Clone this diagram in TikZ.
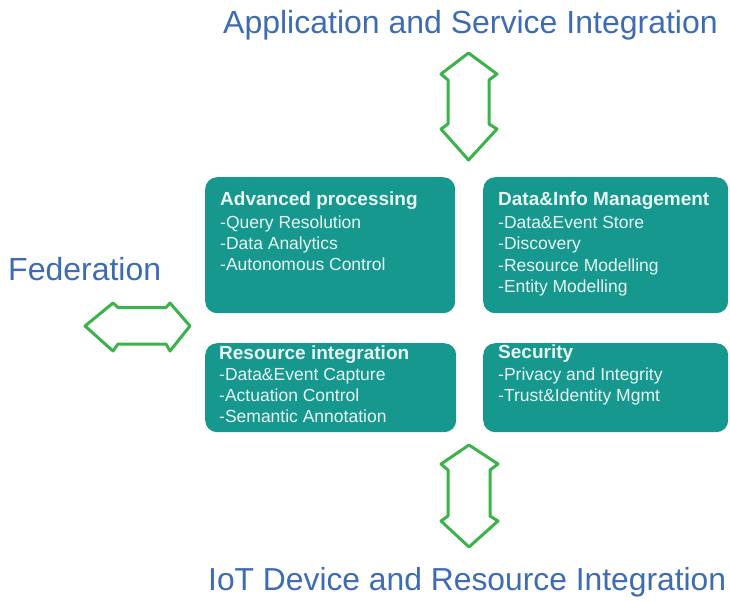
\documentclass[tikz,border=0pt]{standalone}
\usepackage{fontspec}
\setmainfont{Liberation Sans}
\definecolor{titleblue}{RGB}{62,108,180}
\definecolor{boxteal}{RGB}{22,152,142}
\definecolor{boxtext}{RGB}{232,245,243}
\definecolor{arrowgreen}{RGB}{60,178,74}
\begin{document}
\begin{tikzpicture}[x=1pt,y=-1pt,
  title/.style={anchor=base west,inner sep=0pt,text=titleblue,font=\fontsize{32}{38}\selectfont},
  tealbox/.style={fill=boxteal,draw=none,rounded corners=12pt,anchor=north west,inner sep=0pt},
  boxhead/.style={anchor=base west,inner sep=0pt,text=boxtext,font=\fontsize{19}{22}\selectfont\bfseries},
  boxitem/.style={anchor=base west,inner sep=0pt,text=boxtext,font=\fontsize{17.5}{21}\selectfont},
  blockarrow/.style={draw=arrowgreen,line width=3pt,line join=round,fill=white}]
\useasboundingbox (0,0) rectangle (730,600);
\fill[white] (0,0) rectangle (730,600);

% titles
\node[title] (tapp) at (223,33) {Application and Service Integration};
\node[title] (tfed) at (8,280) {Federation};
\node[title,font=\fontsize{31.8}{38}\selectfont] (tiot) at (208,590) {IoT Device and Resource Integration};

% boxes
\node[tealbox,minimum width=250pt,minimum height=136pt] (b1) at (205,177) {};
\node[tealbox,minimum width=245pt,minimum height=136pt] (b2) at (483,177) {};
\node[tealbox,minimum width=251pt,minimum height=89pt] (b3) at (205,343) {};
\node[tealbox,minimum width=245pt,minimum height=89pt] (b4) at (483,343) {};

% box 1
\node[boxhead] (h1) at (220,205) {Advanced processing};
\node[boxitem] (i11) at (220,228) {-Query Resolution};
\node[boxitem] (i12) at (220,249) {-Data Analytics};
\node[boxitem] (i13) at (220,270.5) {-Autonomous Control};
% box 2
\node[boxhead] (h2) at (498,205) {Data\&Info Management};
\node[boxitem] (i21) at (498,228) {-Data\&Event Store};
\node[boxitem] (i22) at (498,249.5) {-Discovery};
\node[boxitem] (i23) at (498,271) {-Resource Modelling};
\node[boxitem] (i24) at (498,292.5) {-Entity Modelling};
% box 3
\node[boxhead] (h3) at (219,359) {Resource integration};
\node[boxitem] (i31) at (219,380) {-Data\&Event Capture};
\node[boxitem] (i32) at (219,401) {-Actuation Control};
\node[boxitem] (i33) at (219,422.5) {-Semantic Annotation};
% box 4
\node[boxhead] (h4) at (498,358) {Security};
\node[boxitem] (i41) at (498,380) {-Privacy and Integrity};
\node[boxitem] (i42) at (498,401) {-Trust\&Identity Mgmt};

% top double arrow
\draw[blockarrow] (468.5,53) -- (497,74) -- (489,80) -- (489,124) -- (497,129)
  -- (468.5,160) -- (441,129) -- (448,124) -- (448,80) -- (441,74) -- cycle;
% bottom double arrow
\draw[blockarrow] (469,445) -- (498,464) -- (490,470) -- (490,516) -- (498,521)
  -- (469,547) -- (441,521) -- (448,516) -- (448,470) -- (441,464) -- cycle;
% left double arrow
\draw[blockarrow] (85,326) -- (113,303) -- (118,307.5) -- (166,307.5) -- (170,303)
  -- (190,326) -- (170,351) -- (166,344) -- (118,344) -- (113,351) -- cycle;
\end{tikzpicture}
\end{document}
